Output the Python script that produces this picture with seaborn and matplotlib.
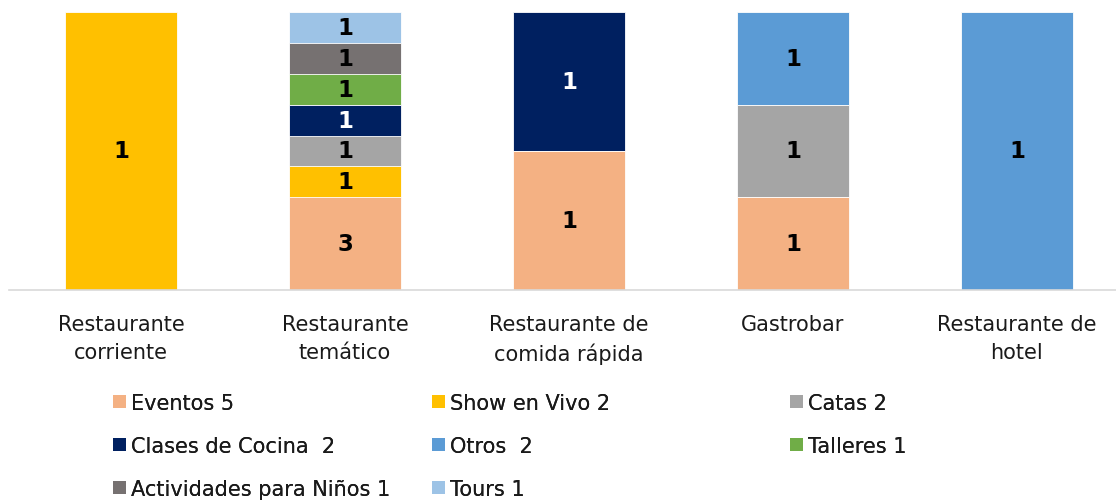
import numpy as np
import pandas as pd
import matplotlib
matplotlib.use("Agg")
import matplotlib.pyplot as plt
from matplotlib.patches import Patch
import seaborn as sns

# Data (counts per restaurant type)
categorias = ["Restaurante\ncorriente", "Restaurante\ntemático", "Restaurante de\ncomida rápida",
              "Gastrobar", "Restaurante de\nhotel"]
actividades = ["Eventos 5", "Show en Vivo 2", "Catas 2", "Clases de Cocina  2", "Otros  2",
               "Talleres 1", "Actividades para Niños 1", "Tours 1"]
eventos = [0, 3, 1, 1, 0]
show_vivo = [1, 1, 0, 0, 0]
catas = [0, 1, 0, 1, 0]
clases_cocina = [0, 1, 1, 0, 0]
otros = [0, 0, 0, 1, 1]
talleres = [0, 1, 0, 0, 0]
actividades_ninos = [0, 1, 0, 0, 0]
tours = [0, 1, 0, 0, 0]

colores = ["#F4B183", "#FFC000", "#A5A5A5", "#002060", "#5B9BD5", "#70AD47", "#767171", "#9DC3E6"]
color_texto = ["black", "black", "black", "white", "black", "black", "black", "black"]

df = pd.DataFrame(
    np.array([eventos, show_vivo, catas, clases_cocina, otros, talleres, actividades_ninos, tours]).T,
    index=categorias, columns=actividades)
pct = df.div(df.sum(axis=1), axis=0)
acum = pct.cumsum(axis=1)

sns.set_style("white")
plt.rcParams["font.family"] = ["DejaVu Sans"]

fig = plt.figure(figsize=(11.16, 5.02), dpi=100)
ax = fig.add_axes([9 / 1116, 211 / 502, 1120 / 1116, 278 / 502])

# stacked bars: draw cumulative totals from the top layer down
for i in range(len(actividades) - 1, -1, -1):
    sns.barplot(x=categorias, y=acum.iloc[:, i].values, color=colores[i], width=0.5,
                edgecolor="white", linewidth=0.6, saturation=1, ax=ax)

# value labels
for i, act in enumerate(actividades):
    for j, cat in enumerate(categorias):
        v = df.loc[cat, act]
        if v > 0:
            y = acum.iloc[j, i] - pct.iloc[j, i] / 2
            ax.text(j, y, str(v), ha="center", va="center", fontsize=16.5,
                    fontweight="bold", color=color_texto[i])

ax.set_xlim(-0.5, 4.5)
ax.set_ylim(0, 1)
ax.set_yticks([])
ax.set_ylabel("")
for s in ["top", "right", "left"]:
    ax.spines[s].set_visible(False)
ax.spines["bottom"].set_color("#D9D9D9")
ax.spines["bottom"].set_linewidth(1.2)
ax.tick_params(axis="x", length=0, pad=17, labelsize=15, labelcolor="#1a1a1a")
for lbl in ax.get_xticklabels():
    lbl.set_linespacing(1.5)

# legend in three columns, filled row by row
handles = [Patch(facecolor=c, edgecolor="none") for c in colores]
columnas = [[0, 3, 6], [1, 4, 7], [2, 5]]
x_cols = [113, 432, 790]
for col, xc in zip(columnas, x_cols):
    leg = fig.legend([handles[k] for k in col], [actividades[k] for k in col],
                     loc="upper left", bbox_to_anchor=(xc / 1116, 1 - 394 / 502),
                     frameon=False, fontsize=15, handlelength=0.6, handleheight=0.6,
                     handletextpad=0.25, labelspacing=1.1, borderpad=0, borderaxespad=0,
                     labelcolor="#1a1a1a")
    fig.add_artist(leg)

fig.savefig("out.png", dpi=100)
